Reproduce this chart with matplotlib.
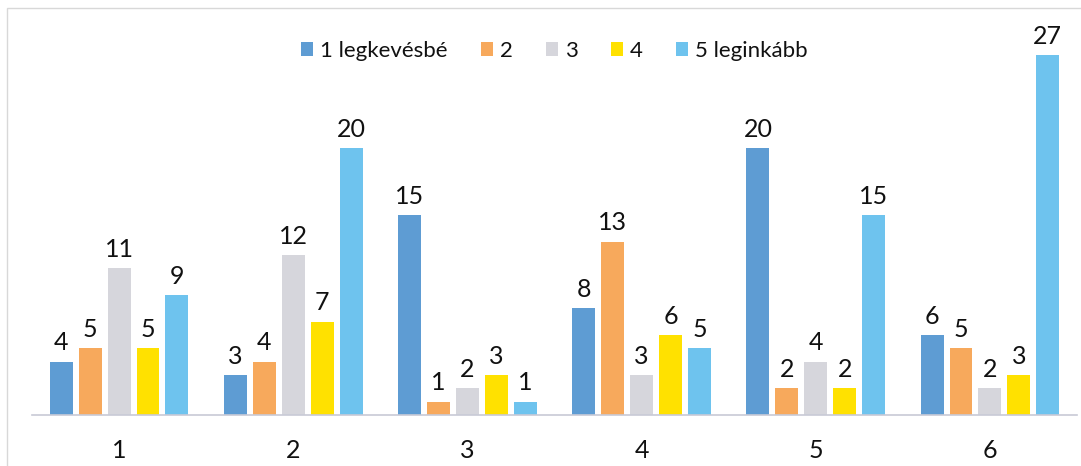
import matplotlib
matplotlib.use("Agg")
import matplotlib.pyplot as plt
import numpy as np

categories = ["1", "2", "3", "4", "5", "6"]
series_names = ["1 legkevésbé", "2", "3", "4", "5 leginkább"]
s1 = [4, 3, 15, 8, 20, 6]
s2 = [5, 4, 1, 13, 2, 5]
s3 = [11, 12, 2, 3, 4, 2]
s4 = [5, 7, 3, 6, 2, 3]
s5 = [9, 20, 1, 5, 15, 27]
colors = ["#5E9CD3", "#F7A95C", "#D6D6DC", "#FFE100", "#6EC3EE"]

plt.rcParams['font.family'] = ['Lato', 'DejaVu Sans']

fig = plt.figure(figsize=(10.81, 4.66), dpi=100)
fig.patch.set_facecolor("white")
# light frame
fig.add_artist(plt.Rectangle((7/1081, -0.1), 1.2, (466-8)/466 + 0.1,
                             transform=fig.transFigure, fill=False,
                             edgecolor="#D8D8D8", linewidth=1.0))
ax = fig.add_axes([32/1081, 51/466, 1045/1081, 400/466])

x = np.arange(len(categories))
width = 0.132
step = 0.166
all_series = [s1, s2, s3, s4, s5]
for i, (vals, name, c) in enumerate(zip(all_series, series_names, colors)):
    pos = x + (i - 2) * step
    bars = ax.bar(pos, vals, width, color=c, label=name)
    for b, v in zip(bars, vals):
        ax.text(b.get_x() + b.get_width() / 2, v + 0.55, str(v),
                ha="center", va="bottom", fontsize=18, color="#111111")

ax.set_xlim(-0.5, len(categories) - 0.5)
ax.set_ylim(0, 30)
ax.set_xticks(x)
ax.set_xticklabels(categories, fontsize=18, color="#111111")
ax.tick_params(axis="x", length=0, pad=17)
ax.set_yticks([])
for s in ["top", "right", "left"]:
    ax.spines[s].set_visible(False)
ax.spines["bottom"].set_color("#C8CAD6")
ax.spines["bottom"].set_linewidth(1.2)

leg = ax.legend(loc="upper center", bbox_to_anchor=(0.5, 0.985), ncol=5,
                frameon=False, fontsize=16, handlelength=0.55, handleheight=0.55,
                handletextpad=0.3, columnspacing=1.5)
for t in leg.get_texts():
    t.set_color("#111111")

fig.savefig("out.png", dpi=100, facecolor="white")
